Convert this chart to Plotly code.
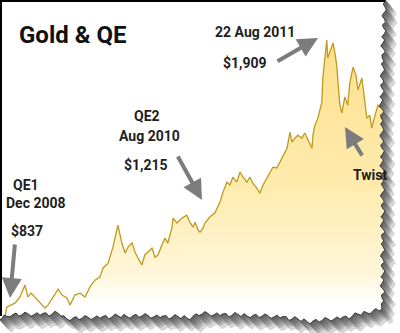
import numpy as np
import plotly.graph_objects as go

W, H = 400, 333

# Gold price (USD/oz) from the first QE round to early 2012
dates = [
    "2008-12-06", "2008-12-21", "2009-01-02", "2009-01-15", "2009-01-30", "2009-02-08",
    "2009-02-14", "2009-02-23", "2009-03-04", "2009-03-10", "2009-03-23", "2009-04-01",
    "2009-04-16", "2009-04-25", "2009-05-10", "2009-05-26", "2009-06-07", "2009-06-22",
    "2009-07-01", "2009-07-16", "2009-08-01", "2009-08-16", "2009-08-31", "2009-09-15",
    "2009-09-30", "2009-10-10", "2009-10-25", "2009-11-09", "2009-11-24", "2009-12-06",
    "2009-12-16", "2009-12-25", "2010-01-06", "2010-01-15", "2010-01-24", "2010-02-05",
    "2010-02-14", "2010-02-24", "2010-03-08", "2010-03-17", "2010-03-26", "2010-04-07",
    "2010-04-16", "2010-04-25", "2010-05-08", "2010-05-11", "2010-05-23", "2010-06-07",
    "2010-06-22", "2010-07-01", "2010-07-11", "2010-07-17", "2010-07-26", "2010-08-01",
    "2010-08-10", "2010-08-16", "2010-08-31", "2010-09-15", "2010-10-01", "2010-10-10",
    "2010-10-22", "2010-10-31", "2010-11-09", "2010-11-21", "2010-12-01", "2010-12-10",
    "2010-12-22", "2010-12-31", "2011-01-09", "2011-01-21", "2011-01-30", "2011-02-09",
    "2011-02-21", "2011-03-02", "2011-03-11", "2011-03-23", "2011-04-01", "2011-04-10",
    "2011-04-23", "2011-05-02", "2011-05-08", "2011-05-17", "2011-05-26", "2011-06-07",
    "2011-06-16", "2011-06-26", "2011-07-08", "2011-07-11", "2011-07-17", "2011-07-26",
    "2011-08-07", "2011-08-10", "2011-08-16", "2011-08-22", "2011-08-25", "2011-08-31",
    "2011-09-10", "2011-09-16", "2011-09-22", "2011-09-25", "2011-10-01", "2011-10-07",
    "2011-10-16", "2011-10-25", "2011-10-31", "2011-11-10", "2011-11-19", "2011-11-25",
    "2011-12-07", "2011-12-16", "2011-12-22", "2011-12-31", "2012-01-06", "2012-01-16",
    "2012-01-25", "2012-01-31", "2012-02-09",
]
prices = [
    837, 924, 931, 939, 961, 987,
    1005, 961, 975, 968, 950, 939,
    920, 931, 961, 990, 968, 957,
    931, 968, 975, 961, 998, 1023,
    1034, 1068, 1086, 1145, 1226, 1160,
    1123, 1145, 1160, 1127, 1105, 1079,
    1116, 1127, 1141, 1108, 1116, 1153,
    1178, 1160, 1219, 1252, 1234, 1252,
    1263, 1237, 1219, 1237, 1208, 1200,
    1215, 1234, 1256, 1271, 1311, 1348,
    1385, 1374, 1403, 1385, 1422, 1403,
    1385, 1403, 1381, 1363, 1344, 1374,
    1400, 1422, 1440, 1437, 1459, 1477,
    1510, 1569, 1533, 1547, 1558, 1547,
    1566, 1540, 1510, 1558, 1595, 1621,
    1680, 1769, 1828, 1909, 1843, 1865,
    1898, 1861, 1809, 1754, 1669, 1640,
    1699, 1669, 1750, 1809, 1780, 1725,
    1769, 1680, 1621, 1632, 1584, 1632,
    1669, 1662, 1688,
]

title_text = "Gold & QE"
event_labels = [
    ("QE1", "Dec 2008", "$837"),
    ("QE2", "Aug 2010", "$1,215"),
    ("22 Aug 2011", "$1,909"),
    ("Twist",),
]

FONT = "Roboto, Lato, sans-serif"
TEXT_COLOR = "#1e1e1e"
LINE_COLOR = "#bf9a1e"
ARROW_COLOR = "#7c7c7c"


def px(x):
    return x / W


def py(y):
    return 1 - y / H


def path_of(points, close=True):
    s = "M " + " L ".join(f"{px(x):.4f},{py(y):.4f}" for x, y in points)
    return s + (" Z" if close else "")


fig = go.Figure()
fig.add_trace(go.Scatter(
    x=dates, y=prices, mode="lines",
    line=dict(color=LINE_COLOR, width=1.3),
    fill="tozeroy",
    fillgradient=dict(
        type="vertical", start=931, stop=1909,
        colorscale=[[0, "#ffffff"], [0.12, "#fff6da"], [0.45, "#feebad"], [1, "#fde08e"]],
    ),
    hoverinfo="skip",
))

# torn paper edge along the right and bottom sides
JAG = [0, 1.8, -0.8, 1.2, 2.6, 0.2, -1.6, 0.9, 2.2, -0.9, 0.4, 2.8,
       1.1, -1.2, 1.9, 0.1, -1.9, 1.0, 2.9, -0.6]
ry = np.arange(-2, 306, 3)
rx = np.interp(ry, [0, 100, 200, 306], [384, 381, 382, 382])
rx = rx + np.array([JAG[i % len(JAG)] for i in range(len(ry))])
bx = np.arange(382, -4, -3)
by = np.interp(bx, [0, 10, 60, 65, 110, 140, 190, 200, 280, 310, 350, 382],
               [318, 314, 313, 318, 316, 315, 317, 313, 316, 321, 316, 308])
by = by + np.array([JAG[(i + 7) % len(JAG)] for i in range(len(bx))])
edge = list(zip(rx, ry)) + list(zip(bx, by))

shapes = []
# white backdrop outside the torn sheet
shapes.append(dict(type="path", xref="paper", yref="paper", layer="above",
                   path=path_of(edge + [(-3, 336), (403, 336), (403, -3)]),
                   fillcolor="white", line=dict(width=0)))
# drop shadow under the torn edge
for d in (13, 10, 8, 6, 4, 2):
    shifted = [(x + d * 0.85, y + d) for x, y in edge]
    shapes.append(dict(type="path", xref="paper", yref="paper", layer="above",
                       path=path_of(edge + shifted[::-1]),
                       fillcolor="rgba(50,50,50,0.2)", line=dict(width=0)))
shapes.append(dict(type="path", xref="paper", yref="paper", layer="above",
                   path=path_of(edge, close=False),
                   line=dict(color="rgba(30,30,30,0.7)", width=1)))
# black frame on the top and left sides
shapes.append(dict(type="line", xref="paper", yref="paper", layer="above",
                   x0=px(0), x1=px(385), y0=py(1), y1=py(1),
                   line=dict(color="black", width=2)))
shapes.append(dict(type="line", xref="paper", yref="paper", layer="above",
                   x0=px(1), x1=px(1), y0=py(0), y1=py(316),
                   line=dict(color="black", width=2)))

annotations = []


def label(text, cx, cy, size=14):
    annotations.append(dict(text=text, x=px(cx), y=py(cy), xref="paper", yref="paper",
                            xanchor="center", yanchor="middle", showarrow=False,
                            font=dict(family=FONT, size=size, color=TEXT_COLOR, weight="bold")))


def arrow(tail, tip):
    annotations.append(dict(text="", x=px(tip[0]), y=py(tip[1]), xref="paper", yref="paper",
                            ax=tail[0] - tip[0], ay=tail[1] - tip[1], axref="pixel", ayref="pixel",
                            showarrow=True, arrowhead=2, arrowsize=1, arrowwidth=4,
                            arrowcolor=ARROW_COLOR, standoff=0))


annotations.append(dict(text=title_text, x=px(17), y=py(35), xref="paper", yref="paper",
                        xanchor="left", yanchor="middle", showarrow=False,
                        font=dict(family=FONT, size=24, color="#111111", weight="bold")))

qe1, qe2, peak, twist = event_labels
label(qe1[0], 26, 185)
label(qe1[1], 36, 203)
label(qe1[2], 27, 231)
label(qe2[0], 147, 116)
label(qe2[1], 149, 136)
label(qe2[2], 146, 165)
label(peak[0], 255, 32)
label(peak[1], 245, 63)
label(twist[0], 370, 175)

arrow((15, 243), (10, 298))
arrow((177, 155), (202, 200))
arrow((276, 62), (318, 38))
arrow((363, 157), (345, 127))

fig.update_layout(
    width=W, height=H,
    margin=dict(l=0, r=0, t=0, b=0),
    paper_bgcolor="white", plot_bgcolor="white",
    showlegend=False,
    xaxis=dict(visible=False, range=["2008-11-30", "2012-04-01"]),
    yaxis=dict(visible=False, range=[828, 2057]),
    shapes=shapes,
    annotations=annotations,
)

fig.write_html("out.html")
